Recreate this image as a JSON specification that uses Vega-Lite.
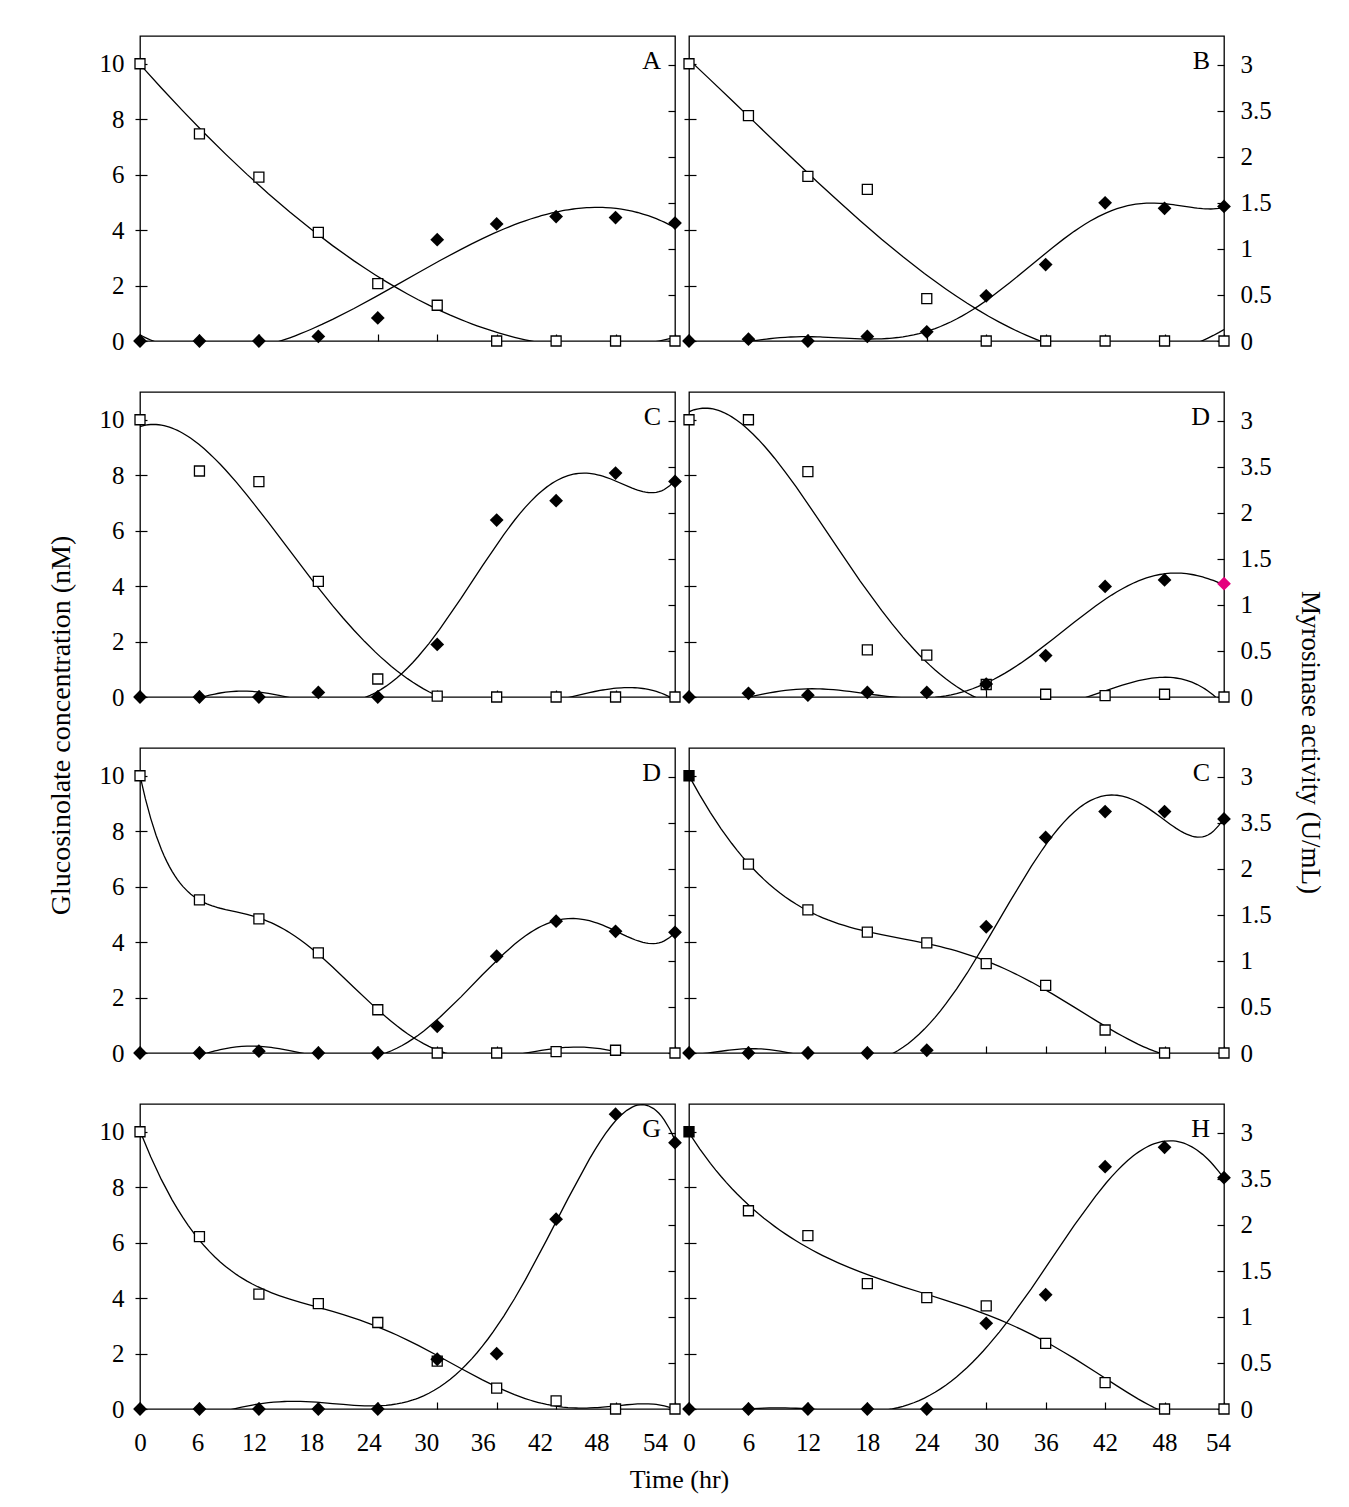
{
  "$schema": "https://vega.github.io/schema/vega-lite/v6.json",
  "background": "#ffffff",
  "padding": {"left": 46, "top": 35, "right": 10, "bottom": 100},
  "datasets": {
    "obs": [
      {"panel": "p1", "t": 0, "gluc": 10, "myro": 0},
      {"panel": "p1", "t": 6, "gluc": 7.47, "myro": 0},
      {"panel": "p1", "t": 12, "gluc": 5.91, "myro": 0},
      {"panel": "p1", "t": 18, "gluc": 3.92, "myro": 0.05},
      {"panel": "p1", "t": 24, "gluc": 2.07, "myro": 0.25},
      {"panel": "p1", "t": 30, "gluc": 1.29, "myro": 1.1},
      {"panel": "p1", "t": 36, "gluc": 0, "myro": 1.27},
      {"panel": "p1", "t": 42, "gluc": 0, "myro": 1.35},
      {"panel": "p1", "t": 48, "gluc": 0, "myro": 1.34},
      {"panel": "p1", "t": 54, "gluc": 0, "myro": 1.28},
      {"panel": "p2", "t": 0, "gluc": 10, "myro": 0},
      {"panel": "p2", "t": 6, "gluc": 8.13, "myro": 0.02},
      {"panel": "p2", "t": 12, "gluc": 5.94, "myro": 0},
      {"panel": "p2", "t": 18, "gluc": 5.47, "myro": 0.05},
      {"panel": "p2", "t": 24, "gluc": 1.53, "myro": 0.1},
      {"panel": "p2", "t": 30, "gluc": 0, "myro": 0.49},
      {"panel": "p2", "t": 36, "gluc": 0, "myro": 0.83},
      {"panel": "p2", "t": 42, "gluc": 0, "myro": 1.5},
      {"panel": "p2", "t": 48, "gluc": 0, "myro": 1.44},
      {"panel": "p2", "t": 54, "gluc": 0, "myro": 1.46},
      {"panel": "p3", "t": 0, "gluc": 10, "myro": 0},
      {"panel": "p3", "t": 6, "gluc": 8.15, "myro": 0},
      {"panel": "p3", "t": 12, "gluc": 7.77, "myro": 0},
      {"panel": "p3", "t": 18, "gluc": 4.17, "myro": 0.05},
      {"panel": "p3", "t": 24, "gluc": 0.65, "myro": 0},
      {"panel": "p3", "t": 30, "gluc": 0.03, "myro": 0.57},
      {"panel": "p3", "t": 36, "gluc": 0, "myro": 1.92},
      {"panel": "p3", "t": 42, "gluc": 0, "myro": 2.13},
      {"panel": "p3", "t": 48, "gluc": 0, "myro": 2.43},
      {"panel": "p3", "t": 54, "gluc": 0, "myro": 2.34},
      {"panel": "p4", "t": 0, "gluc": 10, "myro": 0},
      {"panel": "p4", "t": 6, "gluc": 10, "myro": 0.04},
      {"panel": "p4", "t": 12, "gluc": 8.13, "myro": 0.02},
      {"panel": "p4", "t": 18, "gluc": 1.7, "myro": 0.05},
      {"panel": "p4", "t": 24, "gluc": 1.51, "myro": 0.05},
      {"panel": "p4", "t": 30, "gluc": 0.45, "myro": 0.14},
      {"panel": "p4", "t": 36, "gluc": 0.1, "myro": 0.45},
      {"panel": "p4", "t": 42, "gluc": 0.05, "myro": 1.2},
      {"panel": "p4", "t": 48, "gluc": 0.1, "myro": 1.27},
      {"panel": "p4", "t": 54, "gluc": 0, "myro": 1.23},
      {"panel": "p5", "t": 0, "gluc": 10, "myro": 0},
      {"panel": "p5", "t": 6, "gluc": 5.52, "myro": 0},
      {"panel": "p5", "t": 12, "gluc": 4.84, "myro": 0.02},
      {"panel": "p5", "t": 18, "gluc": 3.61, "myro": 0},
      {"panel": "p5", "t": 24, "gluc": 1.56, "myro": 0},
      {"panel": "p5", "t": 30, "gluc": 0, "myro": 0.29},
      {"panel": "p5", "t": 36, "gluc": 0, "myro": 1.05},
      {"panel": "p5", "t": 42, "gluc": 0.05, "myro": 1.43},
      {"panel": "p5", "t": 48, "gluc": 0.1, "myro": 1.32},
      {"panel": "p5", "t": 54, "gluc": 0, "myro": 1.31},
      {"panel": "p6", "t": 0, "gluc": 10, "myro": 0},
      {"panel": "p6", "t": 6, "gluc": 6.81, "myro": 0},
      {"panel": "p6", "t": 12, "gluc": 5.16, "myro": 0},
      {"panel": "p6", "t": 18, "gluc": 4.36, "myro": 0},
      {"panel": "p6", "t": 24, "gluc": 3.97, "myro": 0.03},
      {"panel": "p6", "t": 30, "gluc": 3.22, "myro": 1.37},
      {"panel": "p6", "t": 36, "gluc": 2.44, "myro": 2.34},
      {"panel": "p6", "t": 42, "gluc": 0.83, "myro": 2.62},
      {"panel": "p6", "t": 48, "gluc": 0, "myro": 2.62},
      {"panel": "p6", "t": 54, "gluc": 0, "myro": 2.54},
      {"panel": "p7", "t": 0, "gluc": 10, "myro": 0},
      {"panel": "p7", "t": 6, "gluc": 6.22, "myro": 0},
      {"panel": "p7", "t": 12, "gluc": 4.14, "myro": 0},
      {"panel": "p7", "t": 18, "gluc": 3.8, "myro": 0},
      {"panel": "p7", "t": 24, "gluc": 3.12, "myro": 0},
      {"panel": "p7", "t": 30, "gluc": 1.73, "myro": 0.54},
      {"panel": "p7", "t": 36, "gluc": 0.75, "myro": 0.6},
      {"panel": "p7", "t": 42, "gluc": 0.29, "myro": 2.06},
      {"panel": "p7", "t": 48, "gluc": 0, "myro": 3.2},
      {"panel": "p7", "t": 54, "gluc": 0, "myro": 2.89},
      {"panel": "p8", "t": 0, "gluc": 10, "myro": 0},
      {"panel": "p8", "t": 6, "gluc": 7.15, "myro": 0},
      {"panel": "p8", "t": 12, "gluc": 6.25, "myro": 0},
      {"panel": "p8", "t": 18, "gluc": 4.52, "myro": 0},
      {"panel": "p8", "t": 24, "gluc": 4.02, "myro": 0},
      {"panel": "p8", "t": 30, "gluc": 3.72, "myro": 0.93},
      {"panel": "p8", "t": 36, "gluc": 2.37, "myro": 1.24},
      {"panel": "p8", "t": 42, "gluc": 0.95, "myro": 2.63},
      {"panel": "p8", "t": 48, "gluc": 0, "myro": 2.84},
      {"panel": "p8", "t": 54, "gluc": 0, "myro": 2.51}
    ]
  },
  "config": {
    "font": "Liberation Serif",
    "view": {"stroke": "#000", "strokeWidth": 1.3},
    "axis": {"domain": false, "grid": false, "ticks": true, "tickColor": "#000", "tickWidth": 1.2, "labelColor": "#000", "labelFont": "Liberation Serif", "labelFontSize": 25, "titleColor": "#000", "titleFont": "Liberation Serif", "titleFontWeight": "normal", "titleFontSize": 27, "labelFlush": false, "labelOverlap": false},
    "axisLeft": {"offset": -7, "tickSize": 12, "labelPadding": 11},
    "axisRight": {"offset": -7, "tickSize": 7, "labelPadding": 16},
    "axisBottom": {"offset": -7, "tickSize": 7, "labelPadding": 41, "labelBaseline": "alphabetic"},
    "title": {"font": "Liberation Serif", "fontSize": 26, "fontWeight": "normal", "color": "#000", "orient": "top", "anchor": "end", "frame": "group", "offset": -38, "dx": -14, "baseline": "alphabetic"}
  },
  "columns": 2,
  "spacing": {"row": 51, "column": 14},
  "bounds": "flush",
  "concat": [
    {
      "title": "A",
      "width": 535, "height": 305,
      "data": {"name": "obs"},
      "transform": [{"filter": "datum.panel == 'p1'"}],
      "encoding": {"x": {"field": "t", "type": "quantitative", "scale": {"domain": [0, 54], "nice": false}, "axis": {"values": [0, 6, 12, 18, 24, 30, 36, 42, 48, 54], "labels": false, "title": null}}},
      "layer": [
        {"transform": [{"regression": "gluc", "on": "t", "method": "poly", "order": 3, "extent": [0, 54]}],
         "mark": {"type": "line", "clip": true, "color": "#000", "strokeWidth": 1.3},
         "encoding": {"y": {"field": "gluc", "type": "quantitative", "scale": {"domain": [0, 11], "nice": false}, "axis": {"orient": "left", "values": [0, 2, 4, 6, 8, 10], "labels": true, "title": null}}}},
        {"transform": [{"regression": "myro", "on": "t", "method": "poly", "order": 3, "extent": [0, 54]}],
         "mark": {"type": "line", "clip": true, "color": "#000", "strokeWidth": 1.3},
         "encoding": {"y": {"field": "myro", "type": "quantitative", "scale": {"domain": [0, 3.31], "nice": false}, "axis": {"orient": "right", "values": [0, 0.5, 1, 1.5, 2, 2.5, 3], "labels": false, "title": null}}}},
        {"mark": {"type": "point", "shape": "square", "size": 100, "filled": true, "fill": "#fff", "stroke": "#000", "strokeWidth": 1.3, "opacity": 1},
         "encoding": {"y": {"field": "gluc", "type": "quantitative", "scale": {"domain": [0, 11], "nice": false}, "axis": null}}},
        {"mark": {"type": "point", "shape": "diamond", "size": 190, "filled": true, "color": "#000", "opacity": 1},
         "encoding": {"y": {"field": "myro", "type": "quantitative", "scale": {"domain": [0, 3.31], "nice": false}, "axis": null}}}
      ],
      "resolve": {"scale": {"y": "independent"}, "axis": {"y": "independent"}}
    },
    {
      "title": "B",
      "width": 535, "height": 305,
      "data": {"name": "obs"},
      "transform": [{"filter": "datum.panel == 'p2'"}],
      "encoding": {"x": {"field": "t", "type": "quantitative", "scale": {"domain": [0, 54], "nice": false}, "axis": {"values": [0, 6, 12, 18, 24, 30, 36, 42, 48, 54], "labels": false, "title": null}}},
      "layer": [
        {"transform": [{"regression": "gluc", "on": "t", "method": "poly", "order": 3, "extent": [0, 54]}],
         "mark": {"type": "line", "clip": true, "color": "#000", "strokeWidth": 1.3},
         "encoding": {"y": {"field": "gluc", "type": "quantitative", "scale": {"domain": [0, 11], "nice": false}, "axis": {"orient": "left", "values": [0, 2, 4, 6, 8, 10], "labels": false, "title": null}}}},
        {"transform": [{"regression": "myro", "on": "t", "method": "poly", "order": 6, "extent": [0, 54]}],
         "mark": {"type": "line", "clip": true, "color": "#000", "strokeWidth": 1.3},
         "encoding": {"y": {"field": "myro", "type": "quantitative", "scale": {"domain": [0, 3.31], "nice": false}, "axis": {"orient": "right", "values": [0, 0.5, 1, 1.5, 2, 2.5, 3], "labels": true, "labelExpr": "datum.value == 2.5 ? '3.5' : '' + datum.value", "title": null}}}},
        {"mark": {"type": "point", "shape": "square", "size": 100, "filled": true, "fill": "#fff", "stroke": "#000", "strokeWidth": 1.3, "opacity": 1},
         "encoding": {"y": {"field": "gluc", "type": "quantitative", "scale": {"domain": [0, 11], "nice": false}, "axis": null}}},
        {"mark": {"type": "point", "shape": "diamond", "size": 190, "filled": true, "color": "#000", "opacity": 1},
         "encoding": {"y": {"field": "myro", "type": "quantitative", "scale": {"domain": [0, 3.31], "nice": false}, "axis": null}}}
      ],
      "resolve": {"scale": {"y": "independent"}, "axis": {"y": "independent"}}
    },
    {
      "title": "C",
      "width": 535, "height": 305,
      "data": {"name": "obs"},
      "transform": [{"filter": "datum.panel == 'p3'"}],
      "encoding": {"x": {"field": "t", "type": "quantitative", "scale": {"domain": [0, 54], "nice": false}, "axis": {"values": [0, 6, 12, 18, 24, 30, 36, 42, 48, 54], "labels": false, "title": null}}},
      "layer": [
        {"transform": [{"regression": "gluc", "on": "t", "method": "poly", "order": 4, "extent": [0, 54]}],
         "mark": {"type": "line", "clip": true, "color": "#000", "strokeWidth": 1.3},
         "encoding": {"y": {"field": "gluc", "type": "quantitative", "scale": {"domain": [0, 11], "nice": false}, "axis": {"orient": "left", "values": [0, 2, 4, 6, 8, 10], "labels": true, "title": "Glucosinolate concentration (nM)", "titleX": -77.5, "titleY": 333, "titleAngle": 270, "titleAlign": "center", "titleBaseline": "alphabetic", "titleFontSize": 28}}}},
        {"transform": [{"regression": "myro", "on": "t", "method": "poly", "order": 6, "extent": [0, 54]}],
         "mark": {"type": "line", "clip": true, "color": "#000", "strokeWidth": 1.3},
         "encoding": {"y": {"field": "myro", "type": "quantitative", "scale": {"domain": [0, 3.31], "nice": false}, "axis": {"orient": "right", "values": [0, 0.5, 1, 1.5, 2, 2.5, 3], "labels": false, "title": null}}}},
        {"mark": {"type": "point", "shape": "square", "size": 100, "filled": true, "fill": "#fff", "stroke": "#000", "strokeWidth": 1.3, "opacity": 1},
         "encoding": {"y": {"field": "gluc", "type": "quantitative", "scale": {"domain": [0, 11], "nice": false}, "axis": null}}},
        {"mark": {"type": "point", "shape": "diamond", "size": 190, "filled": true, "color": "#000", "opacity": 1},
         "encoding": {"y": {"field": "myro", "type": "quantitative", "scale": {"domain": [0, 3.31], "nice": false}, "axis": null}}}
      ],
      "resolve": {"scale": {"y": "independent"}, "axis": {"y": "independent"}}
    },
    {
      "title": "D",
      "width": 535, "height": 305,
      "data": {"name": "obs"},
      "transform": [{"filter": "datum.panel == 'p4'"}],
      "encoding": {"x": {"field": "t", "type": "quantitative", "scale": {"domain": [0, 54], "nice": false}, "axis": {"values": [0, 6, 12, 18, 24, 30, 36, 42, 48, 54], "labels": false, "title": null}}},
      "layer": [
        {"transform": [{"regression": "gluc", "on": "t", "method": "poly", "order": 4, "extent": [0, 54]}],
         "mark": {"type": "line", "clip": true, "color": "#000", "strokeWidth": 1.3},
         "encoding": {"y": {"field": "gluc", "type": "quantitative", "scale": {"domain": [0, 11], "nice": false}, "axis": {"orient": "left", "values": [0, 2, 4, 6, 8, 10], "labels": false, "title": null}}}},
        {"transform": [{"regression": "myro", "on": "t", "method": "poly", "order": 6, "extent": [0, 54]}],
         "mark": {"type": "line", "clip": true, "color": "#000", "strokeWidth": 1.3},
         "encoding": {"y": {"field": "myro", "type": "quantitative", "scale": {"domain": [0, 3.31], "nice": false}, "axis": {"orient": "right", "values": [0, 0.5, 1, 1.5, 2, 2.5, 3], "labels": true, "labelExpr": "datum.value == 2.5 ? '3.5' : '' + datum.value", "title": "Myrosinase activity (U/mL)", "titleX": 84, "titleY": 350, "titleAngle": 90, "titleAlign": "center", "titleBaseline": "alphabetic", "titleFontSize": 27}}}},
        {"mark": {"type": "point", "shape": "square", "size": 100, "filled": true, "fill": "#fff", "stroke": "#000", "strokeWidth": 1.3, "opacity": 1},
         "encoding": {"y": {"field": "gluc", "type": "quantitative", "scale": {"domain": [0, 11], "nice": false}, "axis": null}}},
        {"mark": {"type": "point", "shape": "diamond", "size": 190, "filled": true, "color": "#000", "opacity": 1},
         "encoding": {"y": {"field": "myro", "type": "quantitative", "scale": {"domain": [0, 3.31], "nice": false}, "axis": null}, "fill": {"condition": {"test": "datum.t == 54", "value": "#e5007d"}, "value": "#000"}}}
      ],
      "resolve": {"scale": {"y": "independent"}, "axis": {"y": "independent"}}
    },
    {
      "title": "D",
      "width": 535, "height": 305,
      "data": {"name": "obs"},
      "transform": [{"filter": "datum.panel == 'p5'"}],
      "encoding": {"x": {"field": "t", "type": "quantitative", "scale": {"domain": [0, 54], "nice": false}, "axis": {"values": [0, 6, 12, 18, 24, 30, 36, 42, 48, 54], "labels": false, "title": null}}},
      "layer": [
        {"transform": [{"regression": "gluc", "on": "t", "method": "poly", "order": 6, "extent": [0, 54]}],
         "mark": {"type": "line", "clip": true, "color": "#000", "strokeWidth": 1.3},
         "encoding": {"y": {"field": "gluc", "type": "quantitative", "scale": {"domain": [0, 11], "nice": false}, "axis": {"orient": "left", "values": [0, 2, 4, 6, 8, 10], "labels": true, "title": null}}}},
        {"transform": [{"regression": "myro", "on": "t", "method": "poly", "order": 6, "extent": [0, 54]}],
         "mark": {"type": "line", "clip": true, "color": "#000", "strokeWidth": 1.3},
         "encoding": {"y": {"field": "myro", "type": "quantitative", "scale": {"domain": [0, 3.31], "nice": false}, "axis": {"orient": "right", "values": [0, 0.5, 1, 1.5, 2, 2.5, 3], "labels": false, "title": null}}}},
        {"mark": {"type": "point", "shape": "square", "size": 100, "filled": true, "fill": "#fff", "stroke": "#000", "strokeWidth": 1.3, "opacity": 1},
         "encoding": {"y": {"field": "gluc", "type": "quantitative", "scale": {"domain": [0, 11], "nice": false}, "axis": null}}},
        {"mark": {"type": "point", "shape": "diamond", "size": 190, "filled": true, "color": "#000", "opacity": 1},
         "encoding": {"y": {"field": "myro", "type": "quantitative", "scale": {"domain": [0, 3.31], "nice": false}, "axis": null}}}
      ],
      "resolve": {"scale": {"y": "independent"}, "axis": {"y": "independent"}}
    },
    {
      "title": "C",
      "width": 535, "height": 305,
      "data": {"name": "obs"},
      "transform": [{"filter": "datum.panel == 'p6'"}],
      "encoding": {"x": {"field": "t", "type": "quantitative", "scale": {"domain": [0, 54], "nice": false}, "axis": {"values": [0, 6, 12, 18, 24, 30, 36, 42, 48, 54], "labels": false, "title": null}}},
      "layer": [
        {"transform": [{"regression": "gluc", "on": "t", "method": "poly", "order": 6, "extent": [0, 54]}],
         "mark": {"type": "line", "clip": true, "color": "#000", "strokeWidth": 1.3},
         "encoding": {"y": {"field": "gluc", "type": "quantitative", "scale": {"domain": [0, 11], "nice": false}, "axis": {"orient": "left", "values": [0, 2, 4, 6, 8, 10], "labels": false, "title": null}}}},
        {"transform": [{"regression": "myro", "on": "t", "method": "poly", "order": 6, "extent": [0, 54]}],
         "mark": {"type": "line", "clip": true, "color": "#000", "strokeWidth": 1.3},
         "encoding": {"y": {"field": "myro", "type": "quantitative", "scale": {"domain": [0, 3.31], "nice": false}, "axis": {"orient": "right", "values": [0, 0.5, 1, 1.5, 2, 2.5, 3], "labels": true, "labelExpr": "datum.value == 2.5 ? '3.5' : '' + datum.value", "title": null}}}},
        {"mark": {"type": "point", "shape": "square", "size": 100, "filled": true, "stroke": "#000", "strokeWidth": 1.3, "opacity": 1},
         "encoding": {"y": {"field": "gluc", "type": "quantitative", "scale": {"domain": [0, 11], "nice": false}, "axis": null}, "fill": {"condition": {"test": "datum.t == 0", "value": "#000"}, "value": "#fff"}}},
        {"mark": {"type": "point", "shape": "diamond", "size": 190, "filled": true, "color": "#000", "opacity": 1},
         "encoding": {"y": {"field": "myro", "type": "quantitative", "scale": {"domain": [0, 3.31], "nice": false}, "axis": null}}}
      ],
      "resolve": {"scale": {"y": "independent"}, "axis": {"y": "independent"}}
    },
    {
      "title": "G",
      "width": 535, "height": 305,
      "data": {"name": "obs"},
      "transform": [{"filter": "datum.panel == 'p7'"}],
      "encoding": {"x": {"field": "t", "type": "quantitative", "scale": {"domain": [0, 54], "nice": false}, "axis": {"values": [0, 6, 12, 18, 24, 30, 36, 42, 48, 54], "labels": true, "title": "Time (hr)", "titleX": 539, "titleY": 85, "titleAngle": 0, "titleAlign": "center", "titleBaseline": "alphabetic", "titleFontSize": 26, "labelOffset": {"condition": [{"test": "datum.value == 6", "value": -2}, {"test": "datum.value == 12", "value": -5}, {"test": "datum.value == 18", "value": -7}, {"test": "datum.value == 24", "value": -9}, {"test": "datum.value == 30", "value": -11}, {"test": "datum.value == 36", "value": -14}, {"test": "datum.value == 42", "value": -16}, {"test": "datum.value == 48", "value": -19}, {"test": "datum.value == 54", "value": -20}], "value": 0}}}},
      "layer": [
        {"transform": [{"regression": "gluc", "on": "t", "method": "poly", "order": 6, "extent": [0, 54]}],
         "mark": {"type": "line", "clip": true, "color": "#000", "strokeWidth": 1.3},
         "encoding": {"y": {"field": "gluc", "type": "quantitative", "scale": {"domain": [0, 11], "nice": false}, "axis": {"orient": "left", "values": [0, 2, 4, 6, 8, 10], "labels": true, "title": null}}}},
        {"transform": [{"regression": "myro", "on": "t", "method": "poly", "order": 5, "extent": [0, 54]}],
         "mark": {"type": "line", "clip": true, "color": "#000", "strokeWidth": 1.3},
         "encoding": {"y": {"field": "myro", "type": "quantitative", "scale": {"domain": [0, 3.31], "nice": false}, "axis": {"orient": "right", "values": [0, 0.5, 1, 1.5, 2, 2.5, 3], "labels": false, "title": null}}}},
        {"mark": {"type": "point", "shape": "square", "size": 100, "filled": true, "fill": "#fff", "stroke": "#000", "strokeWidth": 1.3, "opacity": 1},
         "encoding": {"y": {"field": "gluc", "type": "quantitative", "scale": {"domain": [0, 11], "nice": false}, "axis": null}}},
        {"mark": {"type": "point", "shape": "diamond", "size": 190, "filled": true, "color": "#000", "opacity": 1},
         "encoding": {"y": {"field": "myro", "type": "quantitative", "scale": {"domain": [0, 3.31], "nice": false}, "axis": null}}}
      ],
      "resolve": {"scale": {"y": "independent"}, "axis": {"y": "independent"}}
    },
    {
      "title": "H",
      "width": 535, "height": 305,
      "data": {"name": "obs"},
      "transform": [{"filter": "datum.panel == 'p8'"}],
      "encoding": {"x": {"field": "t", "type": "quantitative", "scale": {"domain": [0, 54], "nice": false}, "axis": {"values": [0, 6, 12, 18, 24, 30, 36, 42, 48, 54], "labels": true, "title": null, "labelOffset": {"condition": {"test": "datum.value == 54", "value": -6}, "value": 0}}}},
      "layer": [
        {"transform": [{"regression": "gluc", "on": "t", "method": "poly", "order": 6, "extent": [0, 54]}],
         "mark": {"type": "line", "clip": true, "color": "#000", "strokeWidth": 1.3},
         "encoding": {"y": {"field": "gluc", "type": "quantitative", "scale": {"domain": [0, 11], "nice": false}, "axis": {"orient": "left", "values": [0, 2, 4, 6, 8, 10], "labels": false, "title": null}}}},
        {"transform": [{"regression": "myro", "on": "t", "method": "poly", "order": 6, "extent": [0, 54]}],
         "mark": {"type": "line", "clip": true, "color": "#000", "strokeWidth": 1.3},
         "encoding": {"y": {"field": "myro", "type": "quantitative", "scale": {"domain": [0, 3.31], "nice": false}, "axis": {"orient": "right", "values": [0, 0.5, 1, 1.5, 2, 2.5, 3], "labels": true, "labelExpr": "datum.value == 2.5 ? '3.5' : '' + datum.value", "title": null}}}},
        {"mark": {"type": "point", "shape": "square", "size": 100, "filled": true, "stroke": "#000", "strokeWidth": 1.3, "opacity": 1},
         "encoding": {"y": {"field": "gluc", "type": "quantitative", "scale": {"domain": [0, 11], "nice": false}, "axis": null}, "fill": {"condition": {"test": "datum.t == 0", "value": "#000"}, "value": "#fff"}}},
        {"mark": {"type": "point", "shape": "diamond", "size": 190, "filled": true, "color": "#000", "opacity": 1},
         "encoding": {"y": {"field": "myro", "type": "quantitative", "scale": {"domain": [0, 3.31], "nice": false}, "axis": null}}}
      ],
      "resolve": {"scale": {"y": "independent"}, "axis": {"y": "independent"}}
    }
  ]
}
